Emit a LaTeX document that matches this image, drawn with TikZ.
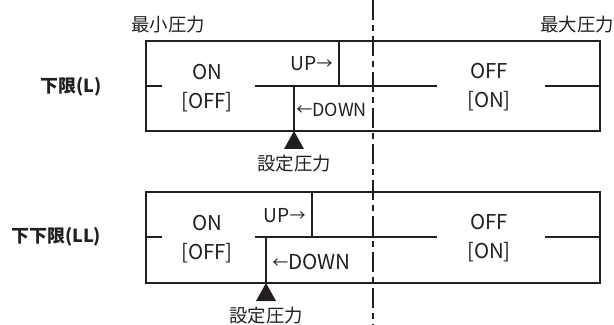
\documentclass[tikz,border=0pt]{standalone}
\usepackage{fontspec}
\setmainfont{Noto Sans CJK JP}
\usetikzlibrary{positioning}
\definecolor{ink}{HTML}{231f20}
\newcommand\toR{{\fontsize{8}{8}\selectfont\raisebox{0.6pt}{→}}}
\newcommand\toL{{\fontsize{8}{8}\selectfont\raisebox{0.6pt}{←}}}

\begin{document}
\begin{tikzpicture}[x=0.5pt,y=-0.5pt,
  frame/.style={draw=ink,line width=0.8pt},
  lbl/.style={inner sep=0pt,font=\fontsize{9.2}{11}\selectfont,text=ink},
  row/.style={inner sep=0pt,font=\bfseries\fontsize{9}{11}\selectfont,text=ink},
  state/.style={inner sep=0pt,align=center,font=\fontsize{10.2}{14.5}\selectfont,text=ink},
  swlbl/.style={inner sep=0pt,font=\fontsize{9.6}{12}\selectfont,text=ink},
  pin/.style={fill=ink},
  chain/.style={draw=ink,line width=0.6pt,dash pattern=on 10pt off 2.5pt on 3pt off 2.5pt}]
\useasboundingbox (0,0) rectangle (614,325);
% upper row: lower limit
\draw[frame] (146,41) rectangle (600,131);
\draw[frame] (146,86) -- (162,86) (255,86) -- (437,86) (545,86) -- (600,86);
\coordinate (u1) at (339,41); \coordinate (u2) at (339,86);
\coordinate (d1) at (294,86); \coordinate (d2) at (294,131);
\draw[frame] (u1) -- (u2);
\draw[frame] (d1) -- (d2);
\fill[pin] (d2) -- ++(-10,18) -- ++(20,0) -- cycle;
\node[lbl] (pmin) at (168,25) {最小圧力};
\node[lbl] (pmax) at (577,25) {最大圧力};
\node[row] (L) at (71,87) {下限(L)};
\node[state] (on1) at (207,88) {ON\\{}[OFF]};
\node[state] (off1) at (489,87) {OFF\\{}[ON]};
\node[swlbl,left=3pt of u1,yshift=-11.5pt] (up1) {UP\toR};
\node[swlbl,font=\fontsize{9}{12}\selectfont,right=1pt of d1,yshift=-12pt] (dn1) {\toL DOWN};
\node[lbl,below=12pt of d2] (set1) {設定圧力};
% lower row: lower-lower limit
\draw[frame] (146,192) rectangle (600,283);
\draw[frame] (146,237) -- (162,237) (255,237) -- (437,237) (545,237) -- (600,237);
\coordinate (u3) at (312,192); \coordinate (u4) at (312,237);
\coordinate (d3) at (266,237); \coordinate (d4) at (266,283);
\draw[frame] (u3) -- (u4);
\draw[frame] (d3) -- (d4);
\fill[pin] (d4) -- ++(-10,18) -- ++(20,0) -- cycle;
\node[row] (LL) at (56,237) {下下限(LL)};
\node[state] (on2) at (207,239) {ON\\{}[OFF]};
\node[state] (off2) at (489,238) {OFF\\{}[ON]};
\node[swlbl,left=3pt of u3,yshift=-12pt] (up2) {UP\toR};
\node[swlbl,font=\fontsize{10.3}{12}\selectfont,right=3pt of d3,yshift=-12.5pt] (dn2) {\toL DOWN};
\node[lbl,below=12pt of d4] (set2) {設定圧力};
% centre line
\coordinate (ct) at (373,0); \coordinate (cb) at (373,325);
\draw[chain] (ct) -- (cb);
\end{tikzpicture}
\end{document}
